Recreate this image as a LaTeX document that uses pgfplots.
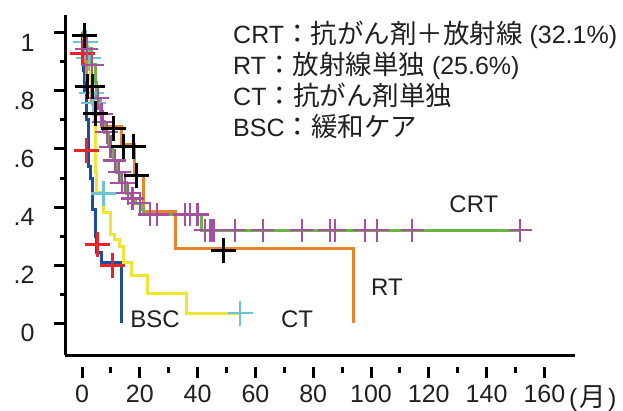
\documentclass[border=0pt]{standalone}
\usepackage{fontspec}
\setmainfont{Liberation Sans}
\newfontfamily\jp[Scale=1.06]{Noto Sans CJK JP}
\usepackage{pgfplots}
\pgfplotsset{compat=1.18}
\definecolor{cgreen}{RGB}{106,180,70}
\definecolor{cpurple}{RGB}{165,80,160}
\definecolor{corange}{RGB}{238,130,40}
\definecolor{cyellow}{RGB}{240,230,50}
\definecolor{cblue}{RGB}{29,78,158}
\definecolor{cred}{RGB}{229,38,42}
\definecolor{ccyan}{RGB}{108,197,214}
\definecolor{ctext}{RGB}{35,31,32}
\begin{document}
\begin{tikzpicture}[x=1pt,y=1pt,font=\fontsize{24}{28.8}\selectfont]
\useasboundingbox (0,0) rectangle (623,410);
\begin{axis}[
  at={(65pt,55pt)}, anchor=south west,
  scale only axis, width=510pt, height=340pt,
  xmin=-5.9, xmax=170.6, ymin=-0.109, ymax=1.061,
  axis x line*=bottom, axis y line*=left,
  axis line style={line width=3pt, black, -},
  clip=false,
  tick align=outside,
  xtick={0,20,40,60,80,100,120,140,160},
  xticklabels={0,20,40,60,80,100,120,140,160},
  minor xtick={10,30,50,70,90,110,130,150},
  ytick={0,0.2,0.4,0.6,0.8,1},
  yticklabels={0,.2,.4,.6,.8,1},
  minor ytick={0.1,0.3,0.5,0.7,0.9},
  major tick length=11pt, minor tick length=5.5pt,
  every tick/.style={line width=3pt, black},
  every major x tick/.append style={yshift=-12pt},
  every minor x tick/.append style={yshift=-12pt},
  xticklabel style={yshift=-16pt, text=ctext},
  yticklabel style={yshift=-10pt, xshift=-16pt, text=ctext},
  every tick label/.append style={font=\fontsize{25}{30}\selectfont},
  line join=miter,
]
% BSC
\addplot[cblue, line width=3pt, const plot] coordinates {
(0,1) (0.3,0.93) (0.5,0.87) (0.7,0.80) (1.4,0.70) (2.1,0.54) (3.0,0.50) (3.7,0.39) (4.5,0.30) (4.9,0.245) (6.8,0.21) (13.7,0)};
% CT
\addplot[cyellow, line width=3pt, const plot] coordinates {
(0,1) (0.5,0.968) (1.8,0.913) (2.8,0.84) (3.2,0.792) (3.8,0.758) (4.3,0.70) (4.5,0.62) (4.7,0.52) (5.0,0.451) (7.4,0.383) (9.7,0.304) (11.4,0.287) (13.1,0.263) (14.2,0.211) (17.2,0.166) (22.8,0.104) (36.0,0.035) (54.7,0.035)};
% RT
\addplot[corange, line width=3pt, const plot] coordinates {
(0,1) (0.5,0.95) (1.0,0.90) (1.4,0.84) (1.8,0.814) (3.4,0.76) (4.5,0.72) (6.8,0.676) (13.7,0.614) (18.3,0.51) (21.1,0.384) (32.2,0.257) (93.9,0)};
% CRT
\addplot[cgreen, line width=3pt, const plot] coordinates {
(0,1) (0.8,0.97) (1.5,0.944) (3.2,0.92) (3.4,0.889) (4.5,0.83) (5.0,0.775) (6.5,0.72) (7.0,0.693) (7.8,0.658) (9.2,0.607) (10.5,0.585) (11.0,0.56) (12.0,0.52) (13.5,0.483) (15.5,0.448) (17.0,0.43) (18.5,0.414) (20.5,0.39) (21.2,0.375) (41.5,0.321) (151.6,0.321)};
% censors CT
\addplot[ccyan, only marks, mark=+, mark size=12.5pt, line width=2.5pt] coordinates {
(1.2,0.968) (2.4,0.913) (3.4,0.792) (4.0,0.758) (7.4,0.447) (54.7,0.035)};
% censors BSC
\addplot[cred, only marks, mark=+, mark size=12.5pt, line width=3pt] coordinates {
(0.2,0.93) (1.6,0.596) (5.2,0.27) (10.5,0.20)};
% censors CRT
\addplot[cpurple, only marks, mark=+, mark size=11.5pt, line width=2.5pt] coordinates {
(1.7,0.944) (3.5,0.889) (5.5,0.775) (6.8,0.72) (7.3,0.693) (8.6,0.658) (9.8,0.607) (11.4,0.56) (12.8,0.52) (13.8,0.483) (14.9,0.483) (15.9,0.448) (17.5,0.43) (20.0,0.414) (23.5,0.375) (26.0,0.375) (35.6,0.375) (37.4,0.375) (40.0,0.375) (42.6,0.321) (44.3,0.321) (45.0,0.321) (45.6,0.321) (52.9,0.321) (62.6,0.321) (76.1,0.321) (85.8,0.321) (87.5,0.321) (97.9,0.321) (102.1,0.321) (114.2,0.321) (151.6,0.321)};
% censors RT
\addplot[black, only marks, mark=+, mark size=12.5pt, line width=3pt] coordinates {
(1.0,0.99) (2.0,0.814) (3.7,0.814) (4.5,0.723) (10.8,0.671) (14.3,0.608) (17.8,0.608) (18.9,0.51) (48.9,0.252)};
\node[anchor=base, text=ctext] at (axis cs:135.6,0.38) {CRT};
\node[anchor=base, text=ctext] at (axis cs:105.5,0.097) {RT};
\node[anchor=base, text=ctext] at (axis cs:74.4,-0.013) {CT};
\node[anchor=base, text=ctext] at (axis cs:25.3,-0.013) {BSC};
\end{axis}
\begin{scope}[font=\fontsize{25}{30}\selectfont]
\node[anchor=base west, inner sep=0pt, text=ctext] at (233,366) {CRT{\jp ：抗がん剤＋放射線} (32.1\%)};
\node[anchor=base west, inner sep=0pt, text=ctext] at (233,335) {RT{\jp ：放射線単独} (25.6\%)};
\node[anchor=base west, inner sep=0pt, text=ctext] at (233,304) {CT{\jp ：抗がん剤単独}};
\node[anchor=base west, inner sep=0pt, text=ctext] at (233,273) {BSC{\jp ：緩和ケア}};
\node[anchor=base west, inner sep=0pt, text=ctext] at (569,4) {(\kern2pt{\jp 月}\kern2pt)};
\end{scope}
\end{tikzpicture}
\end{document}
